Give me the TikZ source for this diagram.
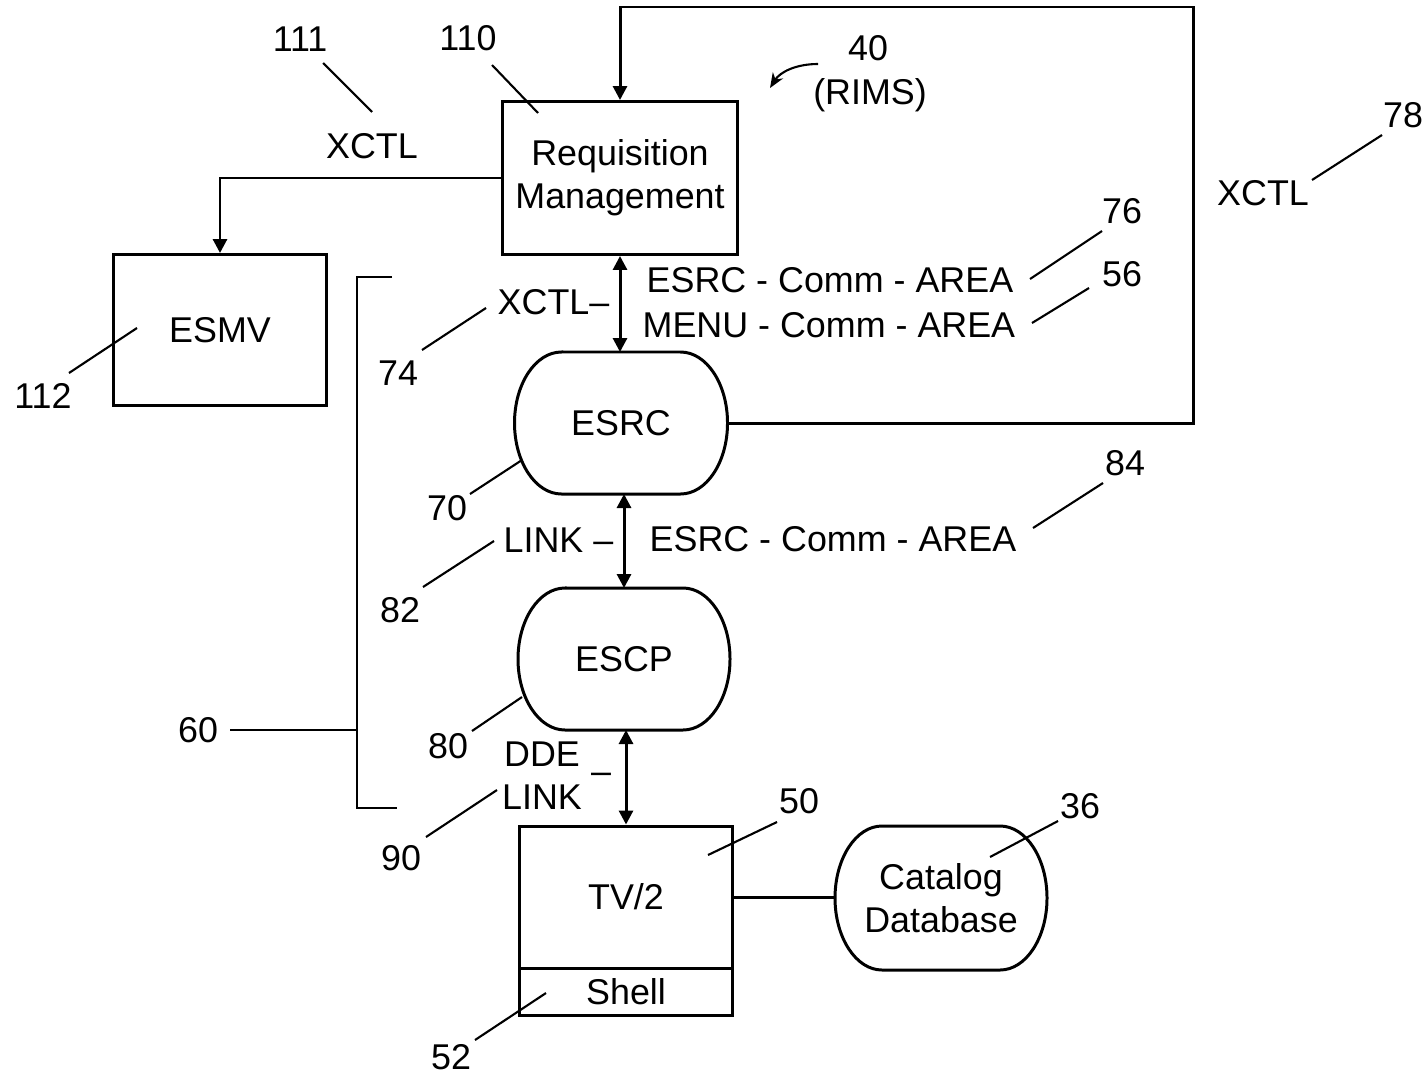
\documentclass[tikz,border=0pt]{standalone}
\usepackage{fontspec}
\setmainfont{Liberation Sans}
\usetikzlibrary{arrows.meta, positioning}

\tikzset{
  box/.style={draw, line width=0.85pt, align=center, inner sep=0pt},
  pill/.style={box, draw=none, outer sep=0pt, append after command={\pgfextra{\let\pillnode\tikzlastnode
    \draw[line width=0.85pt] ([xshift=4.7mm]\pillnode.north west) -- ([xshift=-4.7mm]\pillnode.north east)
      arc[start angle=90, end angle=-90, x radius=4.7mm, y radius=#1]
      -- ([xshift=4.7mm]\pillnode.south west)
      arc[start angle=270, end angle=90, x radius=4.7mm, y radius=#1] -- cycle;}}},
  lead/.style={line width=0.6pt},
  arr/.style={line width=0.85pt, -{Triangle[length=1.4mm, width=1.4mm]}},
  biarr/.style={line width=0.85pt, {Triangle[length=1.4mm, width=1.4mm]}-{Triangle[length=1.4mm, width=1.4mm]}},
}

\begin{document}
\begin{tikzpicture}[x=0.1mm, y=-0.1mm, font=\fontsize{10.2}{12.3}\selectfont]
  \useasboundingbox (0,0) rectangle (1426,1073);

  % blocks
  \node[box, minimum width=2.35cm, minimum height=1.53cm] (req) at (620,178) {Requisition\\Management};
  \node[box, minimum width=2.13cm, minimum height=1.51cm] (esmv) at (220,330) {ESMV};
  \node[pill=0.71cm, minimum width=2.13cm, minimum height=1.42cm] (esrc) at (621,423) {ESRC};
  \node[pill=0.71cm, minimum width=2.12cm, minimum height=1.42cm] (escp) at (624,659) {ESCP};
  \node[box, minimum width=2.13cm, minimum height=1.42cm] (tv) at (626,897) {TV/2};
  \node[box, minimum width=2.13cm, minimum height=0.47cm] (shell) at (626,991.5) {Shell};
  \node[pill=0.72cm, minimum width=2.12cm, minimum height=1.44cm] (cat) at (941,898) {Catalog\\Database};

  % links
  \coordinate (loop) at (1193,7);
  \draw[arr] (esrc.east) -| (loop) -| (req.north);
  \draw[arr] (req.west) -| (esmv.north);
  \draw[biarr] (req.south) -- (req.south |- esrc.north);
  \draw[biarr] (escp.north |- esrc.south) -- (escp.north);
  \draw[biarr] (tv.north |- escp.south) -- (tv.north);
  \draw[line width=0.85pt] (tv.east) -- (tv.east -| cat.west);

  % labels on the links
  \node (xctl111) at (372,146) {XCTL};
  \node (n111) at (300,39) {111};
  \draw[lead] (323,63) -- (372,112);
  \node (n110) at (468,38) {110};
  \draw[lead] (492,65) -- (538,113);
  \node (n40) at (868,48) {40};
  \node (rims) at (870,95) {(RIMS)};
  \draw[lead, -{Stealth[length=1.5mm, width=1.2mm]}] (818,64) .. controls (796,64) and (780,72) .. (770,88);

  \node[anchor=west, inner sep=0pt] (esrcarea) at (646,280) {ESRC - Comm - AREA};
  \node[anchor=west, inner sep=0pt] (menuarea) at (642,325) {MENU - Comm - AREA};
  \node[anchor=east, inner sep=0pt] (xctl74) at (610,302) {XCTL--};
  \node (n74) at (398,373) {74};
  \draw[lead] (422,350) -- (486,308);
  \node (n76) at (1122,211) {76};
  \draw[lead] (1030,279) -- (1102,231);
  \node (n56) at (1122,274) {56};
  \draw[lead] (1032,323) -- (1089,288);
  \node (xctl78) at (1263,193) {XCTL};
  \node (n78) at (1403,115) {78};
  \draw[lead] (1312,180) -- (1382,135);
  \node (n112) at (43,396) {112};
  \draw[lead] (69,373) -- (137,328);

  \node (n70) at (447,508) {70};
  \draw[lead] (470,494) -- (522,460);
  \node[anchor=east, inner sep=0pt] (link82) at (614,540) {LINK --};
  \node (n82) at (400,610) {82};
  \draw[lead] (423,587) -- (494,541);
  \node[anchor=west, inner sep=0pt] (esrcarea2) at (649,539) {ESRC - Comm - AREA};
  \node (n84) at (1125,463) {84};
  \draw[lead] (1033,528) -- (1103,483);

  \node (n80) at (448,746) {80};
  \draw[lead] (472,731) -- (522,697);
  \node[align=center] (ddelink) at (542,776) {DDE\\LINK};
  \node (ddedash) at (601,778) {--};
  \node (n90) at (401,858) {90};
  \draw[lead] (426,837) -- (497,790);
  \node (n50) at (799,801) {50};
  \draw[lead] (708,855) -- (777,822);
  \node (n52) at (451,1057) {52};
  \draw[lead] (475,1040) -- (546,993);
  \node (n36) at (1080,806) {36};
  \draw[lead] (990,857) -- (1058,821);

  % bracket 60
  \node (n60) at (198,730) {60};
  \coordinate (brk) at (357,730);
  \draw[lead] (n60.east) -- (brk);
  \draw[lead] (392,277) -- (357,277) -- (357,808) -- (397,808);
\end{tikzpicture}
\end{document}
